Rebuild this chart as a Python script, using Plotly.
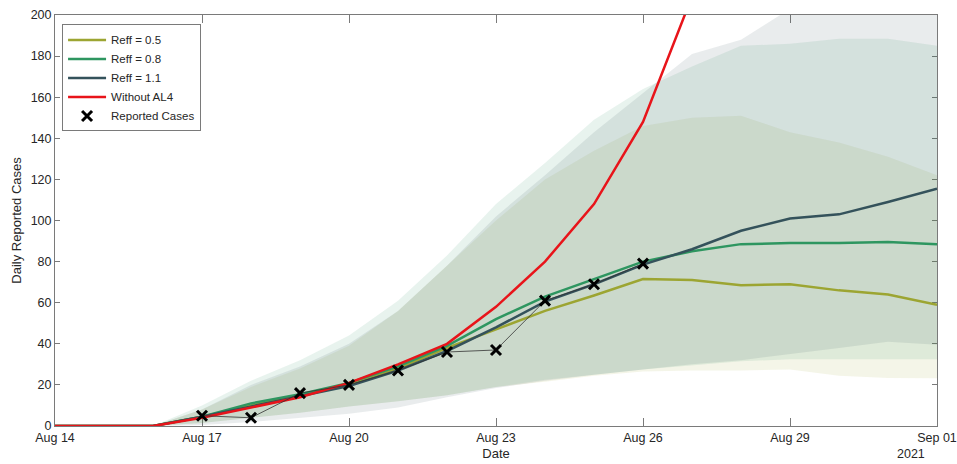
import pandas as pd
import plotly.graph_objects as go

dates = pd.date_range("2021-08-14", "2021-09-01").strftime("%Y-%m-%d").tolist()

# central projections
reff_05 = [0, 0, 0, 4.5, 10, 15, 20, 28, 38, 47, 56, 63.5, 71.5, 71, 68.5, 69, 66, 64, 59]
reff_08 = [0, 0, 0, 4.5, 11, 15.5, 21, 29, 39, 52, 63, 71.5, 80, 85, 88.5, 89, 89, 89.5, 88.5]
reff_11 = [0, 0, 0, 4.5, 9.5, 14.5, 19.5, 27, 36.5, 48, 60.5, 69, 78.5, 86, 95, 101, 103, 109, 115.5]
without_al4 = [0, 0, 0, 4, 9, 14, 21, 30, 40, 58, 80, 108, 148, 209, 290, None, None, None, None]

# uncertainty bands
lo_05 = [0, 0, 0, 1.5, 4, 6.5, 9.5, 12, 15, 19, 21.5, 24.5, 26.5, 27, 27, 27.5, 24.5, 23.3, 23.2]
hi_05 = [0, 0, 0, 8, 19, 28, 39, 56, 78, 100, 120, 134, 146, 150, 151, 143, 138, 131, 122]
lo_08 = [0, 0, 0, 1.5, 4, 6.5, 9.5, 12, 15, 19, 22.5, 25, 27.5, 29.5, 31.5, 32.5, 32.5, 32.5, 32.5]
hi_08 = [0, 0, 0, 10, 22, 32, 44, 61, 83, 108, 128, 149, 164, 175, 185, 186, 188.5, 188.5, 185]
lo_11 = [0, 0, 0, 0.5, 2, 4, 6, 9, 14, 18.5, 22, 25, 27.5, 30, 32, 35, 38, 41, 39.5]
hi_11 = [0, 0, 0, 8, 20, 29, 40, 56, 78, 102, 122, 143, 162, 181, 188, 203, 215, 225, 235]

# reported cases
rep_dates = dates[3:13]
rep_cases = [5, 4, 16, 20, 27, 36, 37, 61, 69, 79]

tick_vals = ["2021-08-14", "2021-08-17", "2021-08-20", "2021-08-23", "2021-08-26", "2021-08-29", "2021-09-01"]
tick_text = ["Aug 14", "Aug 17", "Aug 20", "Aug 23", "Aug 26", "Aug 29", "Sep 01"]

c05 = "#9ca532"
c08 = "#2e9660"
c11 = "#34525b"
cred = "#e8141a"

fig = go.Figure()

def band(lo, hi, rgba):
    fig.add_trace(go.Scatter(
        x=dates + dates[::-1], y=hi + lo[::-1], fill="toself", fillcolor=rgba,
        line=dict(width=0), mode="lines", hoverinfo="skip", showlegend=False))

band(lo_05, hi_05, "rgba(156,165,50,0.11)")
band(lo_08, hi_08, "rgba(46,150,96,0.11)")
band(lo_11, hi_11, "rgba(52,82,91,0.11)")

fig.add_trace(go.Scatter(x=dates, y=reff_05, mode="lines", name="Reff = 0.5", line=dict(color=c05, width=2.5)))
fig.add_trace(go.Scatter(x=dates, y=reff_08, mode="lines", name="Reff = 0.8", line=dict(color=c08, width=2.5)))
fig.add_trace(go.Scatter(x=dates, y=reff_11, mode="lines", name="Reff = 1.1", line=dict(color=c11, width=2.5)))
fig.add_trace(go.Scatter(x=dates, y=without_al4, mode="lines", name="Without AL4", line=dict(color=cred, width=2.5)))
fig.add_trace(go.Scatter(x=rep_dates, y=rep_cases, mode="lines", line=dict(color="#333333", width=0.8),
                         showlegend=False, hoverinfo="skip"))
fig.add_trace(go.Scatter(x=rep_dates, y=rep_cases, mode="markers", name="Reported Cases",
                         marker=dict(symbol="x-thin", size=10, color="black",
                                     line=dict(color="black", width=3))))

axis_common = dict(showline=True, linecolor="#7a7a7a", linewidth=1, mirror="ticks",
                   ticks="inside", tickcolor="#7a7a7a", showgrid=False, zeroline=False,
                   tickfont=dict(size=12.5, color="#262626"), layer="below traces",
                   automargin=False)

fig.update_xaxes(range=["2021-08-14", "2021-09-01"], tickvals=tick_vals, ticktext=tick_text,
                 ticklen=8, ticklabeloverflow="allow",
                 title=dict(text="Date", font=dict(size=13, color="#262626"), standoff=4),
                 **axis_common)
fig.update_yaxes(range=[0, 200], tickvals=list(range(0, 201, 20)), ticklen=5,
                 title=dict(text="Daily Reported Cases", font=dict(size=13, color="#262626"), standoff=6),
                 **axis_common)

fig.add_annotation(x=1, y=0, xref="paper", yref="paper", text="2021", showarrow=False,
                   yshift=-19, xshift=-26, xanchor="center", yanchor="top",
                   font=dict(size=12.5, color="#262626"))

fig.update_layout(
    width=957, height=464,
    margin=dict(l=55, r=20, t=15, b=38),
    paper_bgcolor="white", plot_bgcolor="white",
    font=dict(family="Liberation Sans, Arial, Helvetica, sans-serif", size=12, color="#262626"),
    legend=dict(x=0.008, y=0.977, xanchor="left", yanchor="top", bgcolor="white",
                bordercolor="#7a7a7a", borderwidth=1, font=dict(size=11.5),
                tracegroupgap=0, itemwidth=38),
    showlegend=True,
)

fig.write_html("out.html", config={"displayModeBar": False},
               post_script="document.body.style.margin='0';document.body.style.overflow='hidden';")
